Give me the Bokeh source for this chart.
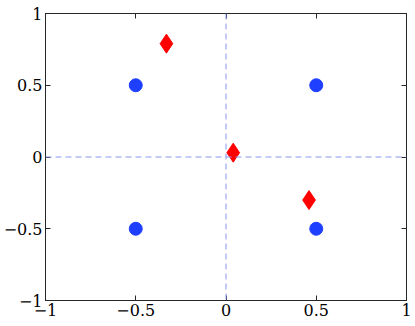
from bokeh.plotting import figure
from bokeh.models import Range1d, LinearAxis, FixedTicker, Span
from bokeh.embed import file_html
from bokeh.resources import INLINE

circle_x = [-0.5, 0.5, -0.5, 0.5]
circle_y = [0.5, 0.5, -0.5, -0.5]
diamond_x = [-0.33, 0.04, 0.46]
diamond_y = [0.79, 0.03, -0.30]
ticks = [-1, -0.5, 0, 0.5, 1]
tick_labels = {-1: "\u22121", -0.5: "\u22120.5", 0: "0", 0.5: "0.5", 1: "1"}

p = figure(width=413, height=324, output_backend="svg", toolbar_location=None,
           x_range=Range1d(-1, 1), y_range=Range1d(-1, 1),
           min_border_left=42, min_border_right=7, min_border_top=13, min_border_bottom=24,
           x_axis_location=None, y_axis_location=None)
p.grid.visible = False
p.outline_line_color = "#262626"
p.outline_line_width = 1
p.background_fill_color = "white"
p.border_fill_color = "white"

for loc in ["below", "left", "above", "right"]:
    ax = LinearAxis(ticker=FixedTicker(ticks=ticks),
                    major_tick_in=5, major_tick_out=0,
                    minor_tick_in=0, minor_tick_out=0,
                    axis_line_color="#262626", major_tick_line_color="#262626",
                    major_label_text_font="DejaVu Serif",
                    major_label_text_font_size="16px",
                    major_label_text_color="black",
                    major_label_standoff=3,
                    major_label_overrides=tick_labels)
    if loc in ("above", "right"):
        ax.major_label_text_alpha = 0
    p.add_layout(ax, loc)

p.add_layout(Span(location=0, dimension="height", line_color="#8a96ee",
                  line_dash="6 4", line_width=1))
p.add_layout(Span(location=0, dimension="width", line_color="#8a96ee",
                  line_dash="6 4", line_width=1))

p.scatter(circle_x, circle_y, marker="circle", size=13, fill_color="#1f3fff",
          line_color="#1f3fff")
p.scatter(diamond_x, diamond_y, marker="diamond", size=19, fill_color="#ff0000",
          line_color="#ff0000")

open("out.html", "w").write(file_html(p, INLINE))
